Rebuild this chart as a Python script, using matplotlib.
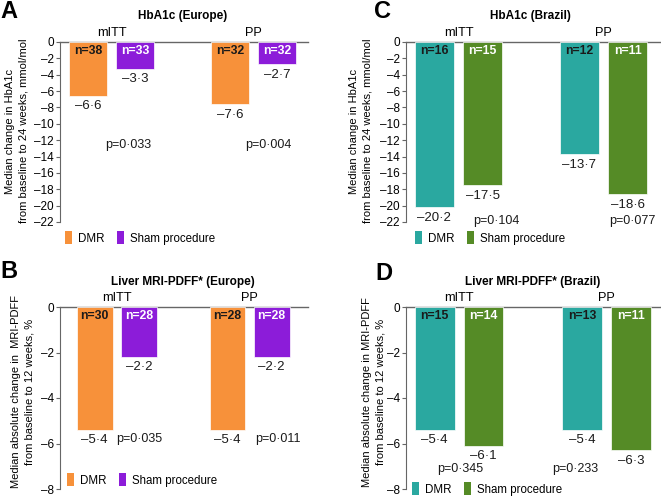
import matplotlib.pyplot as plt
from matplotlib.patches import Patch

plt.rcParams["font.family"] = ["Liberation Sans", "DejaVu Sans"]

groups = ["mITT", "PP"]

# panel A - HbA1c Europe
a_dmr = [-6.6, -7.6]
a_sham = [-3.3, -2.7]
a_n_dmr = [38, 32]
a_n_sham = [33, 32]
a_p = ["p=0·033", "p=0·004"]

# panel B - liver MRI-PDFF Europe
b_dmr = [-5.4, -5.4]
b_sham = [-2.2, -2.2]
b_n_dmr = [30, 28]
b_n_sham = [28, 28]
b_p = ["p=0·035", "p=0·011"]

# panel C - HbA1c Brazil
c_dmr = [-20.2, -13.7]
c_sham = [-17.5, -18.6]
c_n_dmr = [16, 12]
c_n_sham = [15, 11]
c_p = ["p=0·104", "p=0·077"]

# panel D - liver MRI-PDFF Brazil
d_dmr = [-5.4, -5.4]
d_sham = [-6.1, -6.3]
d_n_dmr = [15, 13]
d_n_sham = [14, 11]
d_p = ["p=0·345", "p=0·233"]

W, H = 661, 496
ORANGE, PURPLE = "#F7913A", "#8C1CD9"
TEAL, GREEN = "#2AA8A0", "#558B26"
AXC = "#666666"


def fx(x):
    return x / W


def fy(y):
    return 1 - y / H


def fmt(v):
    return f"{v:.1f}".replace("-", "–").replace(".", "·")


def panel(fig, box, ylim, yticks, xlim, dmr, sham, n_dmr, n_sham, cols,
          pvals, ppos, letter, letter_xy, title, title_xy, ylabel, ylabel_xy,
          leg_xy):
    left, top, right, bottom = box
    ax = fig.add_axes([fx(left), fy(bottom), fx(right - left), (bottom - top) / H])
    off, bw = 0.166, 0.27
    xs = range(len(groups))
    for i in xs:
        for val, n, dx, col, tc in [(dmr[i], n_dmr[i], -off, cols[0], "#1a1a1a"),
                                    (sham[i], n_sham[i], off, cols[1], "white")]:
            ax.bar(i + dx, val, width=bw, color=col, edgecolor="white", linewidth=0.5)
            ax.annotate(f"n={n}", (i + dx, 0), xytext=(0, -2), textcoords="offset points",
                        ha="center", va="top", fontsize=8.8, color=tc, fontweight="bold")
            ax.annotate(fmt(val), (i + dx, val), xytext=(0, -7.5), textcoords="offset points",
                        ha="center", va="center", fontsize=9.5, color="#1a1a1a")
        ax.annotate(groups[i], (i, 0), xytext=(0, 2.5), textcoords="offset points",
                    ha="center", va="bottom", fontsize=9.2, annotation_clip=False)
        ax.text(ppos[i][0], ppos[i][1], pvals[i], ha="center", va="center", fontsize=9,
                color="#1a1a1a", clip_on=False)
    ax.set_xlim(*xlim)
    ax.set_ylim(*ylim)
    ax.set_yticks(yticks)
    ax.set_yticklabels([f"{t:g}".replace("-", "–") for t in yticks], fontsize=8.5)
    ax.set_xticks([])
    ax.axhline(0, color=AXC, lw=1, clip_on=False, zorder=0)
    for s in ["top", "right", "bottom"]:
        ax.spines[s].set_visible(False)
    ax.spines["left"].set_color(AXC)
    ax.tick_params(axis="y", length=3, width=0.8, color=AXC, pad=1.5)
    ax.patch.set_alpha(0)

    fig.text(fx(letter_xy[0]), fy(letter_xy[1]), letter, fontsize=17, fontweight="bold",
             ha="left", va="center")
    fig.text(fx(title_xy[0]), fy(title_xy[1]), title, fontsize=8.5, fontweight="bold",
             ha="center", va="center")
    fig.text(fx(ylabel_xy[0]), fy(ylabel_xy[1]), ylabel, fontsize=8, rotation=90,
             ha="center", va="center", multialignment="center", linespacing=1.4)
    handles = [Patch(facecolor=cols[0], label="DMR"),
               Patch(facecolor=cols[1], label="Sham procedure")]
    fig.legend(handles=handles, loc="center left", bbox_to_anchor=(fx(leg_xy[0]), fy(leg_xy[1])),
               ncol=2, frameon=False, fontsize=8.3, handlelength=0.6, handleheight=1.3,
               handletextpad=0.5, columnspacing=1.1, borderpad=0, borderaxespad=0)
    return ax


fig = plt.figure(figsize=(W / 100, H / 100), dpi=100)

hb_ticks = list(range(0, -23, -2))
mri_ticks = list(range(0, -9, -2))

panel(fig, (60, 42, 308, 222), (-22, 0), hb_ticks, (-0.364, 1.382),
      a_dmr, a_sham, a_n_dmr, a_n_sham, (ORANGE, PURPLE),
      a_p, [(0.114, -12.6), (1.106, -12.6)],
      "A", (0, 11), "HbA1c (Europe)", (183, 16),
      "Median change in HbA1c\nfrom baseline to 24 weeks, mmol/mol", (17, 131), (65, 238))

panel(fig, (406, 42, 660, 222), (-22, 0), hb_ticks, (-0.362, 1.39),
      c_dmr, c_sham, c_n_dmr, c_n_sham, (TEAL, GREEN),
      c_p, [(0.26, -21.9), (1.197, -21.9)],
      "C", (374, 11), "HbA1c (Brazil)", (530, 16),
      "Median change in HbA1c\nfrom baseline to 24 weeks, mmol/mol", (361, 131), (415, 238))

panel(fig, (60, 307, 308, 489), (-8, 0), mri_ticks, (-0.427, 1.44),
      b_dmr, b_sham, b_n_dmr, b_n_sham, (ORANGE, PURPLE),
      b_p, [(0.168, -5.8), (1.215, -5.8)],
      "B", (0, 272), "Liver MRI-PDFF* (Europe)", (183, 282),
      "Median absolute change in  MRI-PDFF\nfrom baseline to 12 weeks, %", (23, 392), (67, 480))

panel(fig, (406, 307, 660, 489), (-8, 0), mri_ticks, (-0.36, 1.363),
      d_dmr, d_sham, d_n_dmr, d_n_sham, (TEAL, GREEN),
      d_p, [(0.007, -7.12), (0.786, -7.12)],
      "D", (375, 273), "Liver MRI-PDFF* (Brazil)", (533, 282),
      "Median absolute change in MRI-PDFF\nfrom baseline to 12 weeks, %", (374, 392), (412, 489))

fig.savefig("out.png", dpi=100)
plt.close(fig)
